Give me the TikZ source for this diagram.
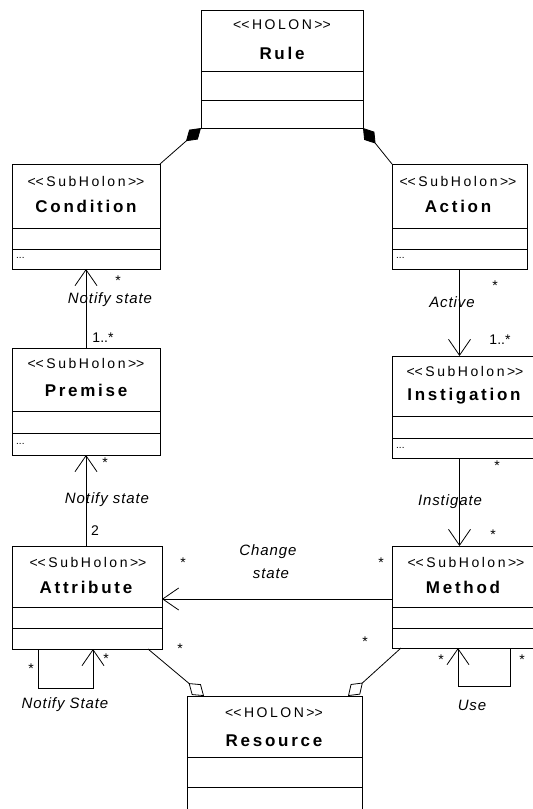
\documentclass[tikz,border=0pt]{standalone}
\usepackage{fontspec}
\setmainfont{Liberation Sans}
\newfontfamily\stfont[LetterSpace=18]{Liberation Sans}
\newfontfamily\nmfont[LetterSpace=16]{Liberation Sans}
\newfontfamily\lbfont[LetterSpace=6]{Liberation Sans}
\usetikzlibrary{arrows.meta,calc}
\newcommand\stL{<\kern0pt<}
\newcommand\stR{>\kern0pt>}
\tikzset{
 box/.style={draw, line width=0.9pt, inner sep=0pt, outer sep=0pt, anchor=north west},
 stereo/.style={font=\stfont\fontsize{14}{16}\selectfont, inner sep=0pt},
 title/.style={font=\nmfont\bfseries\fontsize{17}{19}\selectfont, inner sep=0pt},
 lab/.style={font=\lbfont\itshape\fontsize{15}{17}\selectfont, inner sep=0pt},
 mult/.style={font=\fontsize{14}{16}\selectfont, inner sep=0pt},
 dotsty/.style={font=\fontsize{10}{12}\selectfont, inner sep=0pt, anchor=west},
 conn/.style={line width=0.8pt},
 openarrow/.style={-{Straight Barb[length=16pt,width=22pt,line width=0.8pt]}},
 comp/.style={-{Diamond[length=20pt,width=13pt,fill=black]}},
 aggr/.style={-{Diamond[open,length=20pt,width=14pt,fill=white]}},
}
\begin{document}
\begin{tikzpicture}[x=1pt,y=-1pt]
\useasboundingbox (0,0) rectangle (533,809);
\clip (0,0) rectangle (533,809);

% boxes
\node[box, minimum width=162pt, minimum height=118pt] (rule) at (201,10) {};
\node[box, minimum width=148pt, minimum height=105pt] (cond) at (12,164) {};
\node[box, minimum width=135pt, minimum height=105pt] (action) at (392,164) {};
\node[box, minimum width=148pt, minimum height=107pt] (premise) at (12,348) {};
\node[box, minimum width=148pt, minimum height=102pt] (instig) at (392,356) {};
\node[box, minimum width=150pt, minimum height=103pt] (attr) at (12,546) {};
\node[box, minimum width=148pt, minimum height=102pt] (method) at (392,546) {};
\node[box, minimum width=175pt, minimum height=124pt] (res) at (187,696) {};

% compartment lines
\draw[line width=0.9pt] (rule.west |- 0,71) -- (rule.east |- 0,71);
\draw[line width=0.9pt] (rule.west |- 0,100) -- (rule.east |- 0,100);
\draw[line width=0.9pt] (cond.west |- 0,228) -- (cond.east |- 0,228);
\draw[line width=0.9pt] (cond.west |- 0,249) -- (cond.east |- 0,249);
\draw[line width=0.9pt] (action.west |- 0,228) -- (action.east |- 0,228);
\draw[line width=0.9pt] (action.west |- 0,249) -- (action.east |- 0,249);
\draw[line width=0.9pt] (premise.west |- 0,411) -- (premise.east |- 0,411);
\draw[line width=0.9pt] (premise.west |- 0,433) -- (premise.east |- 0,433);
\draw[line width=0.9pt] (instig.west |- 0,416) -- (instig.east |- 0,416);
\draw[line width=0.9pt] (instig.west |- 0,438) -- (instig.east |- 0,438);
\draw[line width=0.9pt] (attr.west |- 0,607) -- (attr.east |- 0,607);
\draw[line width=0.9pt] (attr.west |- 0,628) -- (attr.east |- 0,628);
\draw[line width=0.9pt] (method.west |- 0,607) -- (method.east |- 0,607);
\draw[line width=0.9pt] (method.west |- 0,628) -- (method.east |- 0,628);
\draw[line width=0.9pt] (res.west |- 0,757) -- (res.east |- 0,757);
\draw[line width=0.9pt] (res.west |- 0,787) -- (res.east |- 0,787);

% box texts
\node[stereo] (ruleSt) at (282,25) {\stL HOLON\stR};
\node[title] (ruleNm) at (282,53) {Rule};
\node[stereo] (condSt) at (86,181) {\stL SubHolon\stR};
\node[title] (condNm) at (86,206) {Condition};
\node[dotsty] (condDots) at (16,258) {...};
\node[stereo] (actSt) at (458,181) {\stL SubHolon\stR};
\node[title] (actNm) at (458,206) {Action};
\node[dotsty] (actDots) at (396,258) {...};
\node[stereo] (premSt) at (86,363) {\stL SubHolon\stR};
\node[title] (premNm) at (86,390) {Premise};
\node[dotsty] (premDots) at (16,444) {...};
\node[stereo] (instSt) at (465,371) {\stL SubHolon\stR};
\node[title] (instNm) at (464,396) {Instigation};
\node[dotsty] (instDots) at (396,448) {...};
\node[stereo] (attrSt) at (88,562) {\stL SubHolon\stR};
\node[title] (attrNm) at (86,587) {Attribute};
\node[stereo] (methSt) at (466,562) {\stL SubHolon\stR};
\node[title] (methNm) at (463,587) {Method};
\node[stereo] (resSt) at (274,713) {\stL HOLON\stR};
\node[title] (resNm) at (274,741) {Resource};

% compositions
\draw[conn,comp] (cond.north east) -- (rule.south west);
\draw[conn,comp] (action.north west) -- (rule.south east);

% vertical associations
\draw[conn,openarrow] (premise.north) -- (cond.south);
\draw[conn,openarrow] (premise.south |- attr.north) -- (premise.south);
\draw[conn,openarrow] (action.south) -- (action.south |- instig.north);
\draw[conn,openarrow] (action.south |- instig.south) -- (action.south |- method.north);

% change state
\coordinate (cs) at ($(method.north west)+(0,53)$);
\draw[conn,openarrow] (cs) -- (attr.east |- cs);

% aggregations
\draw[conn,aggr] ($(attr.south east)+(-14,0)$) -- ($(res.north west)+(17,0)$);
\draw[conn,aggr] ($(method.south west)+(9,0)$) -- ($(res.north east)+(-14,0)$);

% self loops
\draw[conn,openarrow] ($(attr.south west)+(26,0)$) -- ++(0,39) -| ($(attr.south west)+(81,0)$);
\draw[conn,openarrow] ($(method.south west)+(118,0)$) -- ++(0,38) -| ($(method.south west)+(66,0)$);

% labels
\node[mult] (m1) at (118,281) {*};
\node[lab] (l1) at (110,300) {Notify state};
\node[mult] (m2) at (103,338) {1..*};
\node[lab] (l2) at (452,302) {Active};
\node[mult] (m3) at (495,286) {*};
\node[mult] (m4) at (500,340) {1..*};
\node[mult] (m5) at (105,463) {*};
\node[lab] (l3) at (107,500) {Notify state};
\node[mult] (m6) at (95,531) {2};
\node[mult] (m7) at (497,466) {*};
\node[lab] (l4) at (450,502) {Instigate};
\node[mult] (m8) at (493,535) {*};
\node[lab] (l5) at (268,552) {Change};
\node[lab] (l6) at (271,574) {state};
\node[mult] (m9) at (183,563) {*};
\node[mult] (m10) at (381,563) {*};
\node[mult] (m11) at (180,649) {*};
\node[mult] (m12) at (365,642) {*};
\node[mult] (m13) at (31,669) {*};
\node[mult] (m14) at (106,659) {*};
\node[lab] (l7) at (65,705) {Notify State};
\node[mult] (m15) at (441,660) {*};
\node[mult] (m16) at (522,660) {*};
\node[lab] (l8) at (472,705) {Use};
\end{tikzpicture}
\end{document}
